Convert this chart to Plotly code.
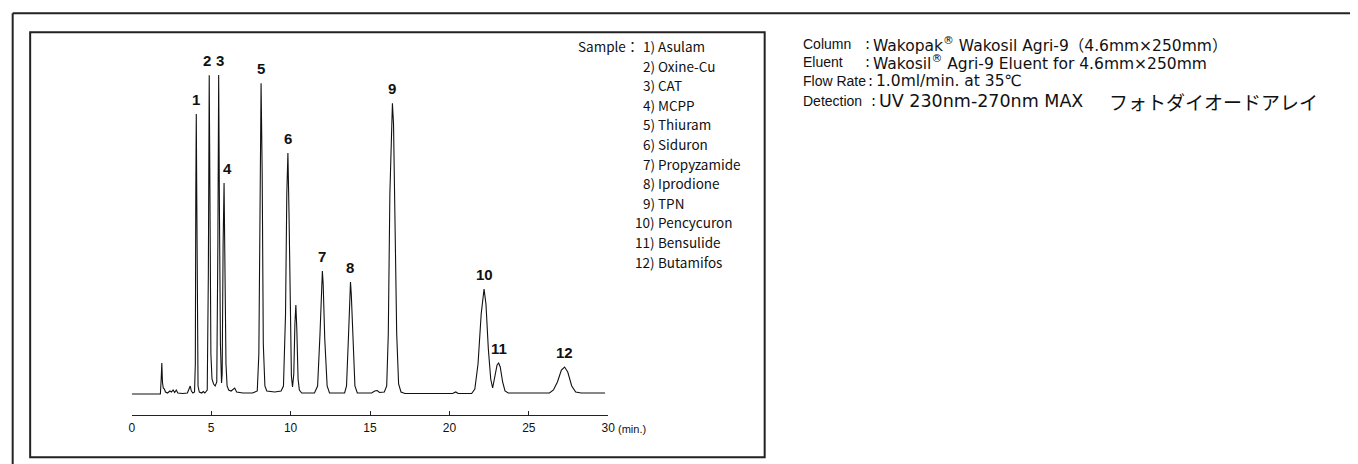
import plotly.graph_objects as go

# ---------------- data ----------------
# chromatogram trace (time in min, signal in arbitrary units)
time_min = [0.0, 1.80, 1.85, 1.89, 1.93, 1.98, 2.05, 2.12, 2.25, 2.40, 2.50, 2.60, 2.70, 2.80, 2.90,
            3.20, 3.50, 3.62, 3.68, 3.75, 3.85, 3.95, 4.00, 4.03, 4.06, 4.09, 4.12, 4.17, 4.25, 4.40,
            4.50, 4.60, 4.75, 4.82, 4.875, 4.93, 4.98, 5.05, 5.15, 5.25, 5.35, 5.42, 5.47, 5.52, 5.58,
            5.65, 5.69, 5.75, 5.81, 5.87, 5.93, 6.00, 6.10, 6.25, 6.40, 6.48, 6.60, 7.00, 7.60, 7.90,
            8.00, 8.07, 8.14, 8.21, 8.28, 8.38, 8.50, 9.00, 9.40, 9.55, 9.68, 9.76, 9.83, 9.90, 9.98,
            10.05, 10.12, 10.20, 10.27, 10.33, 10.39, 10.47, 10.55, 10.70, 11.50, 11.70, 11.85, 11.95,
            12.00, 12.05, 12.15, 12.30, 12.45, 13.40, 13.52, 13.65, 13.73, 13.77, 13.82, 13.92, 14.05,
            14.20, 15.10, 15.30, 15.45, 15.60, 15.90, 16.05, 16.15, 16.25, 16.35, 16.41, 16.48, 16.58,
            16.68, 16.80, 16.95, 17.20, 20.20, 20.40, 20.55, 21.40, 21.60, 21.80, 22.00, 22.18, 22.30,
            22.45, 22.60, 22.72, 22.85, 23.00, 23.10, 23.20, 23.35, 23.50, 23.70, 26.30, 26.55, 26.80,
            27.05, 27.25, 27.45, 27.70, 27.95, 28.30, 29.80]
signal = [0, 0, 15, 31, 12, 6, 5, 2, 1, 3, 2, 4, 1.5, 4, 1,
          0.5, 1, 5, 8, 3, 1, 2, 30, 200, 280, 200, 40, 8, 2, 1,
          2.5, 1, 4, 120, 318.7, 150, 40, 15, 10, 8, 12, 150, 319, 180, 50,
          11, 20, 150, 211, 120, 30, 8, 4, 3, 5, 6, 2, 1, 1, 3,
          40, 220, 310.7, 220, 50, 8, 3, 2, 3, 8, 80, 200, 241, 180, 60,
          18, 7, 20, 70, 89, 65, 15, 4, 1, 1, 8, 60, 115,
          123, 110, 55, 8, 1, 1, 8, 60, 105, 112, 100, 50, 8,
          1, 1, 3, 3.5, 1.5, 2, 8, 60, 200, 280, 290.7, 270, 180,
          60, 10, 2, 0.5, 0.5, 2, 0.5, 0.5, 5, 30, 80, 105, 90,
          45, 15, 6, 18, 29, 31, 27, 12, 3, 1, 1, 4, 12,
          24, 27, 22, 8, 2, 1, 1]

# peak labels
peak_ids = ["1", "2", "3", "4", "5", "6", "7", "8", "9", "10", "11", "12"]
peak_times = [4.06, 4.875, 5.47, 5.81, 8.14, 9.83, 12.00, 13.77, 16.41, 22.18, 23.10, 27.25]
peak_heights = [280, 318.7, 319, 211, 310.7, 241, 123, 112, 290.7, 105, 31, 27]

x_ticks = [0, 5, 10, 15, 20, 25, 30]
x_unit = "(min.)"

sample_title = "Sample："
sample_nums = ["1)", "2)", "3)", "4)", "5)", "6)", "7)", "8)", "9)", "10)", "11)", "12)"]
sample_names = ["Asulam", "Oxine-Cu", "CAT", "MCPP", "Thiuram", "Siduron", "Propyzamide",
                "Iprodione", "TPN", "Pencycuron", "Bensulide", "Butamifos"]

cond_labels = ["Column", "Eluent", "Flow Rate", "Detection"]
cond_values = ["Wakopak<sup>®</sup> Wakosil Agri-9（4.6mm×250mm）",
               "Wakosil<sup>®</sup> Agri-9 Eluent for 4.6mm×250mm",
               "1.0ml/min. at 35℃",
               "UV 230nm-270nm MAX"]
detector_name = "フォトダイオードアレイ"

# ---------------- layout helpers ----------------
# the page body has an 8 px margin, so the figure starts at (8, 8)
OFF = 8
FW, FH = 1358 - OFF, 464 - OFF


def px(x):
    return (x - OFF) / FW


def py(y):
    return 1 - (y - OFF) / FH


LATIN = "Liberation Sans, Arial, sans-serif"
JP = "Noto Sans CJK JP, sans-serif"
WIDE = "DejaVu Sans, Noto Sans CJK JP, sans-serif"
INK = "#111111"

fig = go.Figure()
fig.add_trace(go.Scatter(x=time_min, y=signal, mode="lines",
                         line=dict(color=INK, width=1.1), hoverinfo="skip",
                         showlegend=False))

annotations = []
label_xshift = {"2": -2, "3": 1, "4": 3}
for pid, t, h in zip(peak_ids, peak_times, peak_heights):
    annotations.append(dict(x=t, y=h, xref="x", yref="y", text="<b>" + pid + "</b>",
                            showarrow=False, yanchor="bottom", xanchor="center",
                            yshift=4, xshift=label_xshift.get(pid, 0),
                            font=dict(family=LATIN, size=15, color=INK)))

annotations.append(dict(x=px(618), y=py(429), xref="paper", yref="paper", text=x_unit,
                        showarrow=False, xanchor="left", yanchor="middle",
                        font=dict(family=LATIN, size=11, color=INK)))

# sample legend
row0, drow = 46, 19.6
annotations.append(dict(x=px(643), y=py(row0), xref="paper", yref="paper", text=sample_title,
                        showarrow=False, xanchor="right", yanchor="middle",
                        font=dict(family=JP, size=13.5, color=INK)))
for i, (n, name) in enumerate(zip(sample_nums, sample_names)):
    yy = row0 + i * drow
    annotations.append(dict(x=px(659), y=py(yy), xref="paper", yref="paper", text=n,
                            showarrow=False, xanchor="right", yanchor="middle",
                            font=dict(family=JP, size=13.5, color=INK)))
    annotations.append(dict(x=px(658), y=py(yy), xref="paper", yref="paper", text=name,
                            showarrow=False, xanchor="left", yanchor="middle",
                            font=dict(family=JP, size=13.5, color=INK)))

# conditions text
cond_rows = [44, 62.5, 81, 101]
cond_colon = [866, 866, 869, 872]
cond_size = [15.5, 15.5, 15.5, 17.5]
for lab, val, yy, xc, fs in zip(cond_labels, cond_values, cond_rows, cond_colon, cond_size):
    annotations.append(dict(x=px(804), y=py(yy), xref="paper", yref="paper", text=lab,
                            showarrow=False, xanchor="left", yanchor="middle",
                            font=dict(family=LATIN, size=14, color=INK)))
    annotations.append(dict(x=px(xc), y=py(yy), xref="paper", yref="paper", text=":",
                            showarrow=False, xanchor="left", yanchor="middle",
                            font=dict(family=WIDE, size=15, color=INK)))
    annotations.append(dict(x=px(xc + 8), y=py(yy), xref="paper", yref="paper", text=val,
                            showarrow=False, xanchor="left", yanchor="middle",
                            font=dict(family=WIDE, size=fs, color=INK)))
annotations.append(dict(x=px(1112), y=py(cond_rows[3]), xref="paper", yref="paper",
                        text=detector_name, showarrow=False, xanchor="left", yanchor="middle",
                        font=dict(family=JP, size=19, color=INK)))

shapes = [
    # outer frame (top and left)
    dict(type="line", xref="paper", yref="paper", x0=px(9.7), x1=1.0, y0=py(13.3), y1=py(13.3),
         line=dict(color="#222222", width=2)),
    dict(type="line", xref="paper", yref="paper", x0=px(9.7), x1=px(9.7), y0=py(13.3), y1=0.0,
         line=dict(color="#222222", width=2)),
    # inner frame
    dict(type="rect", xref="paper", yref="paper", x0=px(27.3), x1=px(767.3), y0=py(457.3), y1=py(32.3),
         line=dict(color="#222222", width=2)),
]

fig.update_layout(
    width=FW, height=FH, autosize=False,
    margin=dict(l=0, r=0, t=0, b=0),
    paper_bgcolor="white", plot_bgcolor="white",
    xaxis=dict(domain=[px(129.7), px(609.7)], range=[0, 30], tickvals=x_ticks,
               ticks="inside", ticklen=4, tickwidth=1, tickcolor="#222222",
               showline=True, linecolor="#222222", linewidth=1, showgrid=False, zeroline=False,
               ticklabelstandoff=2,
               tickfont=dict(family=LATIN, size=12, color=INK)),
    yaxis=dict(domain=[py(415), py(40)], range=[-21, 354], visible=False, showgrid=False),
    annotations=annotations, shapes=shapes,
)

fig.write_html("out.html")
